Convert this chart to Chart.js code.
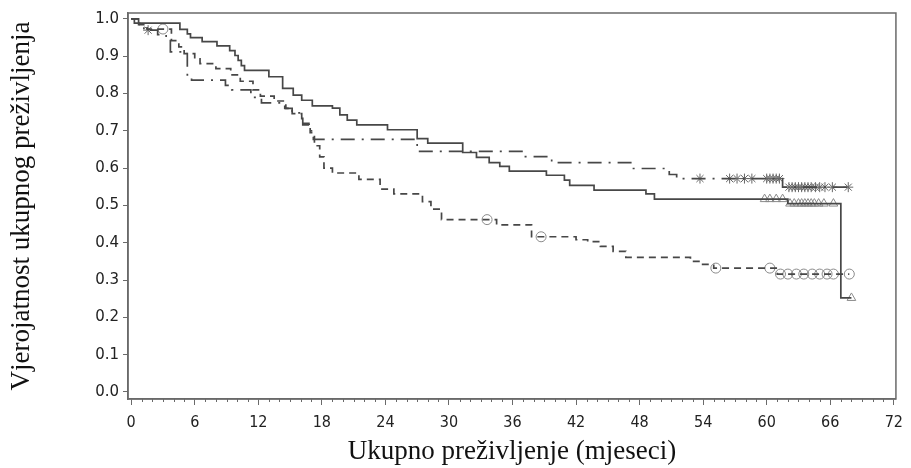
<!DOCTYPE html>
<html>
<head>
<meta charset="utf-8">
<script src="https://cdn.jsdelivr.net/npm/chart.js@4.4.1/dist/chart.umd.min.js"></script>
<style>
  html, body { margin: 0; padding: 0; background: #fff; }
  #wrap { width: 911px; height: 468px; }
</style>
</head>
<body>
<div id="wrap"><canvas id="km"></canvas></div>
<script>
// survival steps (months, probability)
const solidTime = [0, 0.3, 4.6, 5.3, 5.6, 6.7, 8.1, 9.3, 9.8, 10.1, 10.4, 10.7, 13.0, 14.3, 15.3, 16.1, 17.1, 19.0, 19.7, 20.4, 21.3, 24.2, 27.0, 28.0, 31.3, 32.6, 33.8, 34.8, 35.7, 39.2, 40.9, 41.4, 43.7, 48.6, 49.4, 62.0, 67.0, 68.0];
const solidSurv = [1.0, 0.989, 0.972, 0.960, 0.950, 0.939, 0.928, 0.915, 0.902, 0.889, 0.875, 0.862, 0.845, 0.814, 0.796, 0.782, 0.767, 0.761, 0.743, 0.729, 0.716, 0.703, 0.679, 0.667, 0.642, 0.629, 0.615, 0.605, 0.592, 0.581, 0.568, 0.554, 0.541, 0.531, 0.517, 0.505, 0.252, 0.252];

const dashDotTime = [0, 0.7, 1.2, 2.5, 3.3, 3.7, 5.3, 5.7, 8.9, 9.5, 11.3, 12.3, 14.5, 15.2, 16.2, 16.8, 17.2, 27.0, 37.0, 39.7, 47.3, 50.8, 51.5, 61.5, 67.8];
const dashDotSurv = [1.0, 0.985, 0.970, 0.958, 0.945, 0.912, 0.850, 0.836, 0.822, 0.810, 0.790, 0.775, 0.760, 0.748, 0.716, 0.700, 0.677, 0.645, 0.631, 0.615, 0.599, 0.583, 0.572, 0.549, 0.549];

const dashTime = [0, 0.8, 1.5, 3.8, 4.5, 5.0, 6.0, 6.5, 8.0, 9.4, 10.3, 11.5, 12.2, 13.5, 14.6, 15.2, 16.1, 16.9, 17.3, 17.8, 18.2, 19.0, 21.5, 23.5, 24.8, 27.5, 28.3, 29.3, 34.5, 37.8, 42.0, 43.1, 44.3, 45.5, 46.7, 52.8, 53.6, 55.0, 61.0, 67.8];
const dashSurv = [1.0, 0.985, 0.973, 0.942, 0.925, 0.907, 0.893, 0.880, 0.867, 0.850, 0.833, 0.810, 0.793, 0.780, 0.760, 0.746, 0.720, 0.695, 0.660, 0.630, 0.600, 0.587, 0.570, 0.544, 0.531, 0.510, 0.490, 0.462, 0.448, 0.416, 0.408, 0.403, 0.390, 0.377, 0.361, 0.350, 0.342, 0.332, 0.316, 0.316];

// censored observations
const triTime = [59.8, 60.3, 60.9, 61.5, 62.2, 62.6, 63.0, 63.3, 63.6, 63.9, 64.2, 64.5, 64.9, 65.4, 66.3, 68.0];
const triSurv = [0.517, 0.517, 0.517, 0.517, 0.505, 0.505, 0.505, 0.505, 0.505, 0.505, 0.505, 0.505, 0.505, 0.505, 0.505, 0.252];

const starTime = [1.6, 53.7, 56.5, 57.2, 57.9, 58.6, 60.0, 60.3, 60.6, 60.9, 61.2, 62.1, 62.4, 62.7, 63.0, 63.3, 63.6, 63.9, 64.2, 64.6, 65.0, 65.5, 66.2, 67.7];
const starSurv = [0.970, 0.572, 0.572, 0.572, 0.572, 0.572, 0.572, 0.572, 0.572, 0.572, 0.572, 0.549, 0.549, 0.549, 0.549, 0.549, 0.549, 0.549, 0.549, 0.549, 0.549, 0.549, 0.549, 0.549];

const circTime = [3.0, 33.6, 38.7, 55.2, 60.3, 61.3, 62.0, 62.8, 63.5, 64.3, 65.0, 65.7, 66.3, 67.8];
const circSurv = [0.973, 0.462, 0.416, 0.332, 0.332, 0.316, 0.316, 0.316, 0.316, 0.316, 0.316, 0.316, 0.316, 0.316];

const xTicks = [0, 6, 12, 18, 24, 30, 36, 42, 48, 54, 60, 66, 72];
const yTicks = [0, 0.1, 0.2, 0.3, 0.4, 0.5, 0.6, 0.7, 0.8, 0.9, 1.0];

const pts = (t, s) => t.map((v, i) => ({ x: v, y: s[i] }));

const lineCol = '#474747';
const markCol = '#8a8a8a';
const axisCol = '#6a6a6a';

// box round the plot and the small monthly ticks
const framePlugin = {
  id: 'frame',
  afterDraw(chart) {
    const { ctx, chartArea: a, scales } = chart;
    ctx.save();
    ctx.strokeStyle = axisCol;
    ctx.lineWidth = 1.5;
    ctx.strokeRect(a.left, a.top, a.right - a.left, a.bottom - a.top);
    ctx.lineWidth = 1;
    for (let m = xTicks[0]; m <= xTicks[xTicks.length - 1]; m++) {
      if (m % 6 === 0) continue;
      const px = Math.round(scales.x.getPixelForValue(m)) + 0.5;
      ctx.beginPath();
      ctx.moveTo(px, a.bottom);
      ctx.lineTo(px, a.bottom + 3);
      ctx.stroke();
    }
    ctx.restore();
  }
};

new Chart(document.getElementById('km'), {
  type: 'scatter',
  data: {
    datasets: [
      {
        data: pts(solidTime, solidSurv), showLine: true, stepped: 'before',
        borderColor: lineCol, borderWidth: 1.7, pointRadius: 0
      },
      {
        data: pts(dashTime, dashSurv), showLine: true, stepped: 'before',
        borderColor: lineCol, borderWidth: 1.7, borderDash: [7, 5], pointRadius: 0
      },
      {
        data: pts(dashDotTime, dashDotSurv), showLine: true, stepped: 'before',
        borderColor: lineCol, borderWidth: 1.7, borderDash: [14, 7, 2, 7], pointRadius: 0
      },
      {
        data: pts(triTime, triSurv), pointStyle: 'triangle', pointRadius: 5,
        borderColor: markCol, backgroundColor: 'rgba(0,0,0,0)', borderWidth: 1
      },
      {
        data: pts(circTime, circSurv), pointStyle: 'circle', pointRadius: 5,
        borderColor: markCol, backgroundColor: 'rgba(0,0,0,0)', borderWidth: 1
      },
      {
        data: pts(starTime, starSurv), pointStyle: 'star', pointRadius: 5,
        borderColor: '#666', backgroundColor: 'rgba(0,0,0,0)', borderWidth: 1
      }
    ]
  },
  options: {
    responsive: true,
    maintainAspectRatio: false,
    animation: false,
    layout: { padding: { top: 9, right: 14, left: 0, bottom: 0 } },
    plugins: { legend: { display: false }, tooltip: { enabled: false } },
    scales: {
      x: {
        type: 'linear', min: -0.3, max: 72.2,
        afterBuildTicks: (ax) => { ax.ticks = xTicks.map(v => ({ value: v })); },
        afterFit: (s) => { s.height = 69; },
        border: { display: true, color: axisCol, width: 1.5 },
        grid: { drawOnChartArea: false, drawTicks: true, tickLength: 6, color: axisCol },
        ticks: {
          padding: 8, color: '#222', maxRotation: 0, autoSkip: false,
          font: { family: '"DejaVu Sans Condensed", "DejaVu Sans", sans-serif', size: 16 }
        },
        title: {
          display: true, text: 'Ukupno preživljenje (mjeseci)', color: '#111',
          font: { family: '"Liberation Serif", serif', size: 27 },
          padding: { top: 2, bottom: 0 }
        }
      },
      y: {
        type: 'linear', min: -0.019, max: 1.016,
        afterBuildTicks: (ax) => { ax.ticks = yTicks.map(v => ({ value: v })); },
        afterFit: (s) => { s.width = 128; },
        border: { display: true, color: axisCol, width: 1.5 },
        grid: { drawOnChartArea: false, drawTicks: true, tickLength: 5, color: axisCol },
        ticks: {
          padding: 4, color: '#222',
          callback: (v) => Number(v).toFixed(1),
          font: { family: '"DejaVu Sans", sans-serif', size: 15 }
        },
        title: {
          display: true, text: 'Vjerojatnost ukupnog preživljenja', color: '#111',
          font: { family: '"Liberation Serif", serif', size: 27 },
          padding: { top: 6, bottom: 0 }
        }
      }
    }
  },
  plugins: [framePlugin]
});
</script>
</body>
</html>
